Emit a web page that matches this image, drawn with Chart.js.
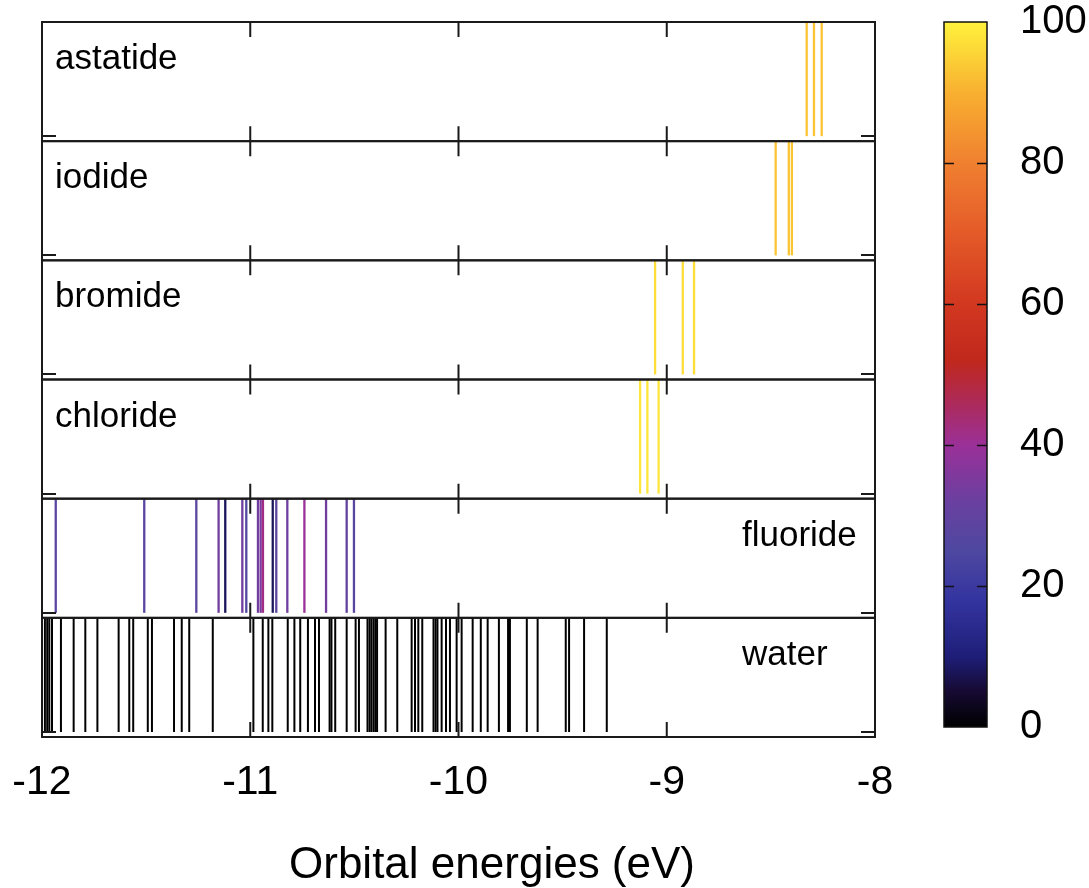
<!DOCTYPE html>
<html><head><meta charset="utf-8">
<script src="https://cdn.jsdelivr.net/npm/chart.js@4.4.1/dist/chart.umd.min.js"></script>
<style>html,body{margin:0;padding:0;background:#fff;}#wrap{width:1089px;height:888px;}</style>
</head><body><div id="wrap"><canvas id="c" width="1089" height="888"></canvas></div>
<script>
// ---- data ----
const species = ['astatide', 'iodide', 'bromide', 'chloride', 'fluoride', 'water'];
const xTicks = [-12, -11, -10, -9, -8];
const cbTicks = [0, 20, 40, 60, 80, 100];
const xTitle = 'Orbital energies (eV)';

const astatideE = [-8.328, -8.293, -8.256];
const astatideV = [93, 93, 93];
const iodideE = [-8.477, -8.414, -8.399];
const iodideV = [93, 93, 93];
const bromideE = [-9.056, -8.923, -8.869];
const bromideV = [97, 97, 97];
const chlorideE = [-9.128, -9.093, -9.039];
const chlorideV = [98, 98, 98];
const fluorideE = [-11.934, -11.509, -11.259, -11.152, -11.120, -11.038, -11.019, -10.963, -10.950, -10.939,
                   -10.892, -10.875, -10.822, -10.740, -10.636, -10.537, -10.502];
const fluorideV = [28, 28, 28, 33, 8, 33, 26, 33, 35, 42, 8, 28, 33, 40, 33, 30, 28];
const waterE = [-11.986, -11.975, -11.965, -11.952, -11.909, -11.848, -11.792, -11.734, -11.632, -11.581,
                -11.562, -11.492, -11.472, -11.366, -11.329, -11.293, -11.180, -10.985, -10.940, -10.913,
                -10.894, -10.820, -10.788, -10.760, -10.723, -10.689, -10.670, -10.619, -10.610, -10.592,
                -10.537, -10.494, -10.478, -10.437, -10.427, -10.418, -10.408, -10.399, -10.391, -10.350,
                -10.294, -10.225, -10.209, -10.193, -10.174, -10.120, -10.110, -10.101, -10.081, -10.060,
                -10.041, -10.009, -9.985, -9.932, -9.893, -9.860, -9.806, -9.762, -9.753, -9.672,
                -9.620, -9.485, -9.469, -9.397, -9.288];
const waterV = waterE.map(() => 0);

const energies = [astatideE, iodideE, bromideE, chlorideE, fluorideE, waterE];
const weights = [astatideV, iodideV, bromideV, chlorideV, fluorideV, waterV];

// palette (value -> colour)
const palStops = [0, 5, 10, 18, 25, 32, 40, 47, 52, 60, 70, 80, 90, 100];
const palColors = ['#000000', '#160a32', '#1e1e78', '#3434a0', '#4e48a0', '#6a40a0', '#9a3098', '#b02a50',
                   '#c0281c', '#d23820', '#e45a28', '#f08030', '#f8b030', '#fff23c'];

function hex2rgb(h) { return [parseInt(h.slice(1,3),16), parseInt(h.slice(3,5),16), parseInt(h.slice(5,7),16)]; }
function palette(v) {
  for (let i = 1; i < palStops.length; i++) {
    if (v <= palStops[i]) {
      const t = (v - palStops[i-1]) / (palStops[i] - palStops[i-1]);
      const a = hex2rgb(palColors[i-1]), b = hex2rgb(palColors[i]);
      return 'rgb(' + a.map((c, j) => Math.round(c + (b[j] - c) * t)).join(',') + ')';
    }
  }
  return palColors[palColors.length - 1];
}

const FONT = '"Liberation Sans", Arial, Helvetica, sans-serif';
const nP = species.length;
const TICKY = 0.042;

const datasets = species.map((name, i) => {
  const base = nP - 1 - i;
  const pts = [];
  energies[i].forEach(e => {
    pts.push({x: e, y: base + TICKY});
    pts.push({x: e, y: base + 1});
    pts.push({x: e, y: null});
  });
  const cols = weights[i].map(palette);
  return {
    label: name,
    data: pts,
    borderWidth: i === nP - 1 ? 2 : 2.3,
    pointRadius: 0,
    spanGaps: false,
    borderCapStyle: 'butt',
    borderColor: cols[0],
    segment: { borderColor: ctx => cols[Math.floor(ctx.p0DataIndex / 3)] }
  };
});

const framePlugin = {
  id: 'frames',
  afterDraw(chart) {
    const ctx = chart.ctx, xs = chart.scales.x, ys = chart.scales.y, ca = chart.chartArea;
    ctx.save();
    // colour bar
    const cb = chart.scales.cb;
    const bx0 = cb.left + 69, bx1 = cb.left + 112;
    const by0 = cb.getPixelForValue(0), by1 = cb.getPixelForValue(100);
    const g = ctx.createLinearGradient(0, by0, 0, by1);
    palStops.forEach((s, k) => g.addColorStop(s / 100, palColors[k]));
    ctx.fillStyle = g;
    ctx.fillRect(bx0, by1, bx1 - bx0, by0 - by1);
    ctx.strokeStyle = '#111';
    ctx.lineWidth = 1.5;
    ctx.strokeRect(bx0, by1, bx1 - bx0, by0 - by1);
    cbTicks.forEach(v => {
      if (v === 0 || v === 100) return;
      const py = Math.round(cb.getPixelForValue(v)) + 0.5;
      ctx.beginPath();
      ctx.moveTo(bx0, py); ctx.lineTo(bx0 + 10, py);
      ctx.moveTo(bx1 - 10, py); ctx.lineTo(bx1, py);
      ctx.stroke();
    });
    // panels
    ctx.strokeStyle = '#1a1a1a';
    ctx.lineWidth = 2;
    for (let i = 0; i < nP; i++) {
      const base = nP - 1 - i;
      const top = ys.getPixelForValue(base + 1), bot = ys.getPixelForValue(base);
      ctx.strokeRect(ca.left, top, ca.right - ca.left, bot - top);
      ctx.beginPath();
      xTicks.forEach(v => {
        const px = xs.getPixelForValue(v);
        ctx.moveTo(px, top); ctx.lineTo(px, top + 15);
        ctx.moveTo(px, bot); ctx.lineTo(px, bot - 15);
      });
      const ty = Math.round(ys.getPixelForValue(base + TICKY));
      ctx.moveTo(ca.left, ty); ctx.lineTo(ca.left + 14, ty);
      ctx.moveTo(ca.right, ty); ctx.lineTo(ca.right - 14, ty);
      ctx.stroke();
      // label
      ctx.fillStyle = '#000';
      ctx.font = '35px ' + FONT;
      ctx.textBaseline = 'alphabetic';
      ctx.textAlign = 'left';
      const lx = i >= 4 ? ca.left + 700 : ca.left + 13;
      ctx.fillText(species[i], lx, top + 47);
    }
    // axis title
    ctx.font = '44px ' + FONT;
    ctx.textAlign = 'center';
    ctx.textBaseline = 'alphabetic';
    ctx.fillText(xTitle, ca.left + 450, chart.height - 10);
    ctx.restore();
  }
};

function zeroPad(s) { s.paddingTop = 0; s.paddingBottom = 0; s.paddingLeft = 0; s.paddingRight = 0; }

new Chart(document.getElementById('c'), {
  type: 'line',
  data: { datasets },
  options: {
    responsive: false,
    devicePixelRatio: 1,
    animation: false,
    events: [],
    layout: { padding: { left: 42, top: 22, right: 0, bottom: 0 } },
    plugins: { legend: { display: false }, tooltip: { enabled: false } },
    scales: {
      x: {
        type: 'linear', position: 'bottom', min: -12, max: -8,
        border: { display: false },
        grid: { display: false, drawTicks: false },
        afterBuildTicks: s => { s.ticks = xTicks.map(v => ({ value: v })); },
        ticks: { color: '#000', font: { size: 41, family: FONT }, padding: 21, maxRotation: 0, autoSkip: false,
                 callback: v => String(v) },
        title: { display: false },
        afterFit: s => { s.height = 151; zeroPad(s); }
      },
      y: {
        type: 'linear', min: 0, max: nP, display: false,
        afterFit: s => { zeroPad(s); }
      },
      cb: {
        type: 'linear', position: 'right', min: -1.42, max: 100,
        border: { display: false },
        grid: { display: false, drawTicks: false },
        afterBuildTicks: s => { s.ticks = cbTicks.map(v => ({ value: v })); },
        ticks: { color: '#000', font: { size: 40, family: FONT }, padding: 145, autoSkip: false,
                 callback: v => String(v) },
        afterFit: s => { s.width = 214; zeroPad(s); }
      }
    }
  },
  plugins: [framePlugin]
});
</script></body></html>
